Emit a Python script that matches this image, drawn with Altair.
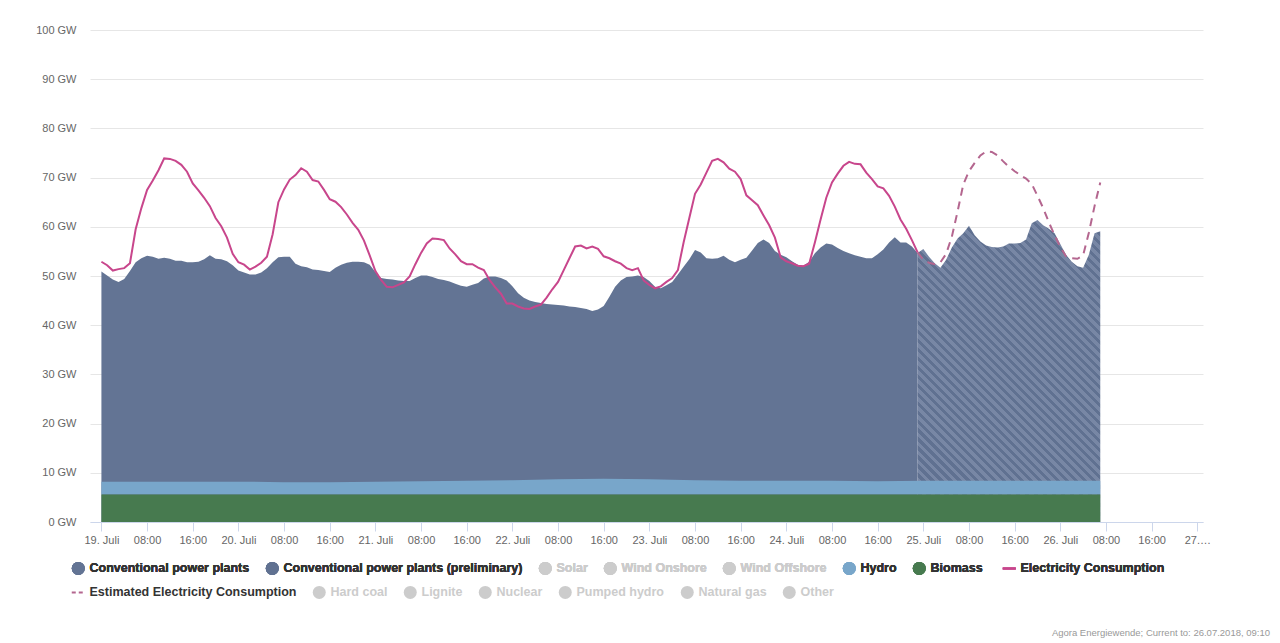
import json
import altair as alt
import pandas as pd

# ---------------- data ----------------
legend_row1_names = [
    "Conventional power plants", "Conventional power plants (preliminary)", "Solar",
    "Wind Onshore", "Wind Offshore", "Hydro", "Biomass", "Electricity Consumption",
]
legend_row1_colors = ["#637494", "#607191", "#cccccc", "#cccccc", "#cccccc",
                      "#78a6ca", "#477a4f", "#c8468c"]
legend_row2_names = [
    "Estimated Electricity Consumption", "Hard coal", "Lignite", "Nuclear",
    "Pumped hydro", "Natural gas", "Other",
]
legend_row2_colors = ["#b4668f", "#cccccc", "#cccccc", "#cccccc", "#cccccc",
                      "#cccccc", "#cccccc"]
inactive_series = ["Solar", "Wind Onshore", "Wind Offshore", "Hard coal", "Lignite",
                   "Nuclear", "Pumped hydro", "Natural gas", "Other"]
line_series = ["Electricity Consumption", "Estimated Electricity Consumption"]

day_labels = ["19. Juli", "20. Juli", "21. Juli", "22. Juli", "23. Juli", "24. Juli",
              "25. Juli", "26. Juli", "27.\u2026"]
hour_labels = ["08:00", "16:00"]
tick_hours = [0, 8, 16, 24, 32, 40, 48, 56, 64, 72, 80, 88, 96, 104, 112, 120, 128,
              136, 144, 152, 160, 168, 176, 184, 192]

# hours since 19 Jul 00:00
hours_actual = list(range(0, 144))          # 19 Jul 00:00 .. 24 Jul 23:00
hours_preliminary = list(range(143, 176))   # 24 Jul 23:00 .. 26 Jul 07:00

# top of the generation stack (conventional + hydro + biomass), GW
total_actual_gw = [
    50.9, 50.1, 49.3, 48.8, 49.4, 51.0, 52.8, 53.6, 54.1, 53.9, 53.5, 53.7,
    53.5, 53.1, 53.1, 52.8, 52.8, 52.9, 53.4, 54.2, 53.5, 53.4, 53.0, 52.2,
    51.1, 50.7, 50.3, 50.3, 50.7, 51.6, 52.8, 53.8, 53.9, 53.9, 52.5, 52.0,
    51.8, 51.3, 51.2, 51.0, 50.8, 51.7, 52.3, 52.7, 52.9, 52.9, 52.8, 52.3,
    50.8, 49.6, 49.4, 49.3, 49.1, 49.0, 49.0, 49.6, 50.1, 50.1, 49.8, 49.4,
    49.2, 48.9, 48.4, 48.0, 47.8, 48.2, 48.6, 49.5, 49.9, 49.9, 49.6, 49.1,
    47.9, 46.5, 45.6, 45.0, 44.7, 44.5, 44.3, 44.2, 44.1, 44.0, 43.8, 43.7,
    43.5, 43.3, 42.9, 43.2, 43.9, 45.8, 47.8, 49.1, 49.8, 49.9, 50.1, 49.8,
    49.0, 47.8, 47.5, 48.1, 48.8, 50.3, 51.9, 53.4, 55.3, 54.8, 53.6, 53.5,
    53.6, 54.1, 53.3, 52.8, 53.3, 53.7, 55.2, 56.7, 57.4, 56.7, 55.1, 54.3,
    53.8, 53.0, 52.3, 52.1, 52.9, 54.6, 55.8, 56.6, 56.4, 55.7, 55.1, 54.6,
    54.2, 53.9, 53.6, 53.6, 54.4, 55.4, 56.8, 57.9, 56.8, 56.8, 56.0, 54.7,
]
total_preliminary_gw = [
    54.7, 55.5, 53.9, 52.6, 51.7, 53.3, 55.8, 57.6, 58.7, 60.2, 58.3, 57.0,
    56.2, 55.9, 55.8, 56.0, 56.6, 56.6, 56.7, 57.4, 60.7, 61.4, 60.3, 59.6,
    58.7, 56.5, 54.3, 52.9, 52.0, 51.7, 54.3, 58.7, 59.1,
]

base_hours = [0, 8, 16, 24, 32, 40, 48, 56, 64, 72, 80, 88, 96, 104, 112, 120, 128,
              136, 144, 152, 160, 168, 175]
biomass_gw = [5.6, 5.6, 5.6, 5.6, 5.6, 5.6, 5.6, 5.6, 5.6, 5.6, 5.6, 5.6,
              5.6, 5.6, 5.6, 5.6, 5.6, 5.6, 5.6, 5.6, 5.6, 5.6, 5.6]
hydro_gw = [2.6, 2.6, 2.6, 2.6, 2.5, 2.5, 2.6, 2.7, 2.8, 2.9, 3.1, 3.2,
            3.1, 2.9, 2.8, 2.8, 2.8, 2.7, 2.8, 2.8, 2.8, 2.8, 2.8]

consumption_gw = [
    52.9, 52.2, 51.1, 51.4, 51.6, 52.6, 59.5, 63.8, 67.5, 69.4, 71.5, 73.9,
    73.8, 73.4, 72.6, 71.2, 68.8, 67.4, 65.9, 64.2, 61.8, 60.1, 57.8, 54.5,
    52.8, 52.3, 51.3, 51.9, 52.7, 53.9, 58.5, 65.0, 67.6, 69.6, 70.5, 71.9,
    71.2, 69.5, 69.2, 67.5, 65.6, 65.1, 64.0, 62.5, 60.8, 59.4, 57.2, 54.2,
    51.0, 49.2, 47.8, 47.7, 48.2, 48.7, 49.9, 52.4, 54.7, 56.6, 57.6, 57.5,
    57.3, 55.6, 54.4, 53.0, 52.4, 52.4, 51.7, 51.2, 49.2, 47.7, 46.4, 44.4,
    44.4, 43.8, 43.4, 43.3, 43.8, 44.2, 45.6, 47.3, 48.8, 51.2, 53.6, 56.0,
    56.2, 55.6, 56.0, 55.5, 54.0, 53.6, 53.0, 52.5, 51.6, 51.2, 51.6, 49.1,
    48.2, 47.5, 47.9, 48.8, 49.6, 51.2, 56.8, 61.8, 66.7, 68.6, 71.0, 73.4,
    73.8, 73.1, 71.8, 71.2, 69.7, 66.4, 65.4, 64.4, 62.3, 60.3, 57.8, 53.8,
    53.0, 52.6, 52.1, 52.0, 52.5, 56.8, 61.5, 65.9, 69.0, 70.8, 72.4, 73.2,
    72.8, 72.7, 71.0, 69.7, 68.2, 67.8, 66.3, 64.1, 61.5, 59.6, 57.3, 54.8,
]
estimated_consumption_gw = [
    54.8, 53.3, 52.7, 52.4, 52.8, 54.5, 58.0, 63.1, 68.6, 71.3, 73.0, 74.5,
    75.3, 75.2, 74.5, 73.3, 72.2, 71.3, 70.5, 69.8, 68.7, 66.3, 63.8, 60.9,
    58.3, 55.9, 54.0, 53.6, 53.5, 54.2, 58.8, 64.2, 69.0,
]

credit = "Agora Energiewende; Current to: 26.07.2018, 09:10"

# ---------------- tables ----------------
conv_df = pd.DataFrame({"hour": hours_actual, "gw": total_actual_gw,
                        "series": legend_row1_names[0]})
prelim_df = pd.DataFrame({"hour": hours_preliminary, "gw": total_preliminary_gw})
base_df = pd.DataFrame({"hour": base_hours, "biomass": biomass_gw, "hydro": hydro_gw})
cons_df = pd.DataFrame({"hour": hours_actual, "gw": consumption_gw,
                        "series": "Electricity Consumption"})
est_df = pd.DataFrame({"hour": hours_preliminary, "gw": estimated_consumption_gw,
                       "series": "Estimated Electricity Consumption"})

# ---------------- layout / style ----------------
FONT = "Liberation Sans"
PLOT_W, PLOT_H = 1113, 492
X_DOMAIN = [-2, 193]
Y_DOMAIN = [0, 100]

x_axis = alt.Axis(
    values=tick_hours,
    labelExpr=(
        f"datum.value % 24 == 0 ? {json.dumps(day_labels, ensure_ascii=False)}[datum.value / 24]"
        f" : {json.dumps(hour_labels)}[(datum.value % 24) / 8 - 1]"
    ),
    title=None, grid=False, domainColor="#ccd6eb", tickColor="#ccd6eb", tickSize=9,
    labelPadding=3, labelFont=FONT, labelFontSize=11, labelColor="#666666",
    labelOverlap=False, labelFlush=False,
)
y_axis = alt.Axis(
    values=list(range(0, 101, 10)), labelExpr="datum.value + ' GW'", title=None,
    grid=True, gridColor="#e6e6e6", domain=False, ticks=False, labelPadding=14,
    labelFont=FONT, labelFontSize=11, labelColor="#666666",
)
x_scale = alt.Scale(domain=X_DOMAIN, nice=False, zero=False)
y_scale = alt.Scale(domain=Y_DOMAIN, nice=False)

is_line = "indexof(" + json.dumps(line_series) + ", datum.label) >= 0"
is_off = "indexof(" + json.dumps(inactive_series) + ", datum.label) >= 0"


def legend_row(scale_name, legend_y, n_items):
    return alt.Legend(
        title=None, orient="none", legendX=-18, legendY=legend_y, direction="horizontal",
        columns=n_items, columnPadding=15, labelOffset=5, padding=0, symbolSize=169,
        symbolType={"expr": f"{is_line} ? 'stroke' : 'circle'"},
        symbolStrokeWidth={"expr": f"{is_line} ? 2 : 0"},
        symbolStrokeColor={"expr": f"scale('{scale_name}', datum.value)"},
        symbolFillColor={"expr": f"scale('{scale_name}', datum.value)"},
        symbolDash={"expr": "datum.label == 'Estimated Electricity Consumption' ? [4, 3] : [1, 0]"},
        symbolOpacity=1,
        labelFont=FONT, labelFontSize=12.5, labelFontWeight="bold", labelLimit=500,
        labelColor={"expr": f"{is_off} ? '#cccccc' : '#333333'"},
    )


color = alt.Color("series:N",
                  scale=alt.Scale(domain=legend_row1_names, range=legend_row1_colors),
                  legend=legend_row("color", 532, len(legend_row1_names)))
stroke = alt.Stroke("series:N",
                    scale=alt.Scale(domain=legend_row2_names, range=legend_row2_colors),
                    legend=legend_row("stroke", 556, len(legend_row2_names)))

X = alt.X("hour:Q", scale=x_scale, axis=x_axis)

# hatched fill for the preliminary area (diagonal stripes via a hard-stop gradient)
px_per_h = PLOT_W / (X_DOMAIN[1] - X_DOMAIN[0])
px_per_gw = PLOT_H / (Y_DOMAIN[1] - Y_DOMAIN[0])
W = (hours_preliminary[-1] - hours_preliminary[0]) * px_per_h
H = max(total_preliminary_gw) * px_per_gw
a = W / H
D = 1.02 * (W + H)
lam = D / (H * (a * a + 1))
n_stripes = int(round(D / 9.0))
c_dark, c_light = "#607191", "#7887a5"
stops = []
for i in range(n_stripes):
    o0, o1, o2 = i / n_stripes, (i + 0.5) / n_stripes, (i + 1) / n_stripes
    stops += [{"offset": o0, "color": c_dark}, {"offset": o1, "color": c_dark},
              {"offset": o1, "color": c_light}, {"offset": min(o2, 1.0), "color": c_light}]
hatch = {"gradient": "linear", "x1": 0, "y1": 1, "x2": lam * a, "y2": 1 - lam, "stops": stops}

conv = alt.Chart(conv_df).mark_area(interpolate="linear").encode(
    x=X, y=alt.Y("gw:Q", scale=y_scale, axis=y_axis), color=color)

prelim = alt.Chart(prelim_df).mark_area(interpolate="linear", fill=hatch).encode(
    x=X, y=alt.Y("gw:Q", scale=y_scale, axis=y_axis))

hydro = alt.Chart(base_df).transform_calculate(
    top="datum.biomass + datum.hydro", series="'Hydro'"
).mark_area(interpolate="linear").encode(
    x=X, y=alt.Y("top:Q", scale=y_scale, axis=y_axis), y2="biomass:Q", color=color)

biomass = alt.Chart(base_df).transform_calculate(series="'Biomass'").mark_area(
    interpolate="linear").encode(
    x=X, y=alt.Y("biomass:Q", scale=y_scale, axis=y_axis), color=color)

cons = alt.Chart(cons_df).mark_line(strokeWidth=2).encode(
    x=X, y=alt.Y("gw:Q", scale=y_scale, axis=y_axis), color=color)

est = alt.Chart(est_df).mark_line(strokeWidth=2, strokeDash=[8, 6]).encode(
    x=X, y=alt.Y("gw:Q", scale=y_scale, axis=y_axis), stroke=stroke)

chart = alt.layer(conv, prelim, hydro, biomass, cons, est).resolve_legend(
    color="independent", stroke="independent"
).properties(
    width=PLOT_W, height=PLOT_H,
    autosize=alt.AutoSizeParams(type="none"),
    padding={"left": 82, "top": 22, "right": 69, "bottom": 120},
    title=alt.TitleParams(credit, orient="bottom", anchor="end", frame="group",
                          fontSize=9.5, font=FONT, color="#999999", fontWeight="normal",
                          offset=29, dx=67),
).configure_view(stroke=None)

chart.save("out.html", embed_options={"renderer": "svg", "actions": False})
